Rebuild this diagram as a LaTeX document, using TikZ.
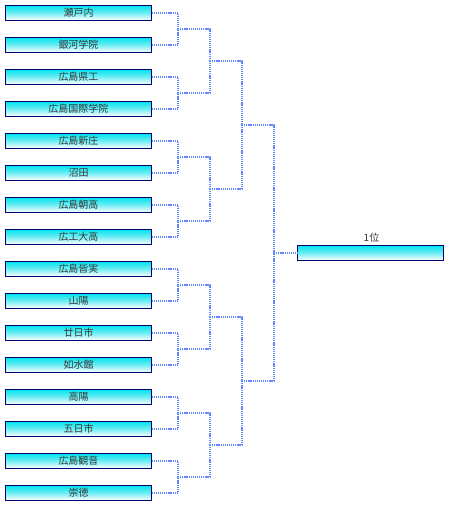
\documentclass[tikz,border=0pt]{standalone}
\usepackage{fontspec}
\setmainfont{Noto Sans CJK JP}
\definecolor{boxline}{RGB}{0,0,110}
\definecolor{boxtop}{RGB}{0,228,238}
\definecolor{boxmid}{RGB}{110,238,245}
\definecolor{wire}{RGB}{100,135,255}
\definecolor{txt}{RGB}{55,55,55}
\begin{document}
\begin{tikzpicture}[x=1pt,y=-1pt,
  team/.style={draw=boxline, line width=1.1pt, minimum width=146pt, minimum height=14.5pt,
    inner sep=0pt, outer sep=0pt, top color=boxtop, bottom color=white, middle color=boxmid,
    text=txt, font=\fontsize{10}{11}\selectfont},
  wirestyle/.style={draw=wire, line width=1.6pt, dash pattern=on 1.2pt off 0.9pt},
  lbl/.style={text=txt, font=\fontsize{10}{11}\selectfont, inner sep=0pt}]
\useasboundingbox (0,0) rectangle (448,507);
\foreach \n/\t [count=\i from 0] in {t1/瀬戸内,t2/銀河学院,t3/広島県工,t4/広島国際学院,t5/広島新庄,t6/沼田,t7/広島朝高,t8/広工大高,t9/広島皆実,t10/山陽,t11/廿日市,t12/如水館,t13/高陽,t14/五日市,t15/広島観音,t16/崇徳}
  \node[team] (\n) at (78.5,{12.8+32*\i}) {\t};
\node[team] (w) at (370.8,252.8) {};
\node[lbl] (wl) at (371.5,237.5) {1位};
\foreach \k in {1,...,8}
  \coordinate (m\k) at (178,{28.8+64*(\k-1)});
\foreach \k in {1,...,4}
  \coordinate (q\k) at (210,{60.8+128*(\k-1)});
\coordinate (s1) at (242,124.8);
\coordinate (s2) at (242,380.8);
\coordinate (f) at (274,252.8);
\foreach \a/\b/\m in {t1/t2/m1,t3/t4/m2,t5/t6/m3,t7/t8/m4,t9/t10/m5,t11/t12/m6,t13/t14/m7,t15/t16/m8}{
  \draw[wirestyle] (\a.east) -| (\m);
  \draw[wirestyle] (\b.east) -| (\m);
}
\foreach \a/\b/\q in {m1/m2/q1,m3/m4/q2,m5/m6/q3,m7/m8/q4}{
  \draw[wirestyle] (\a) -| (\q);
  \draw[wirestyle] (\b) -| (\q);
}
\draw[wirestyle] (q1) -| (s1);
\draw[wirestyle] (q2) -| (s1);
\draw[wirestyle] (q3) -| (s2);
\draw[wirestyle] (q4) -| (s2);
\draw[wirestyle] (s1) -| (f);
\draw[wirestyle] (s2) -| (f);
\draw[wirestyle] (f) -- (w.west);
\end{tikzpicture}
\end{document}
